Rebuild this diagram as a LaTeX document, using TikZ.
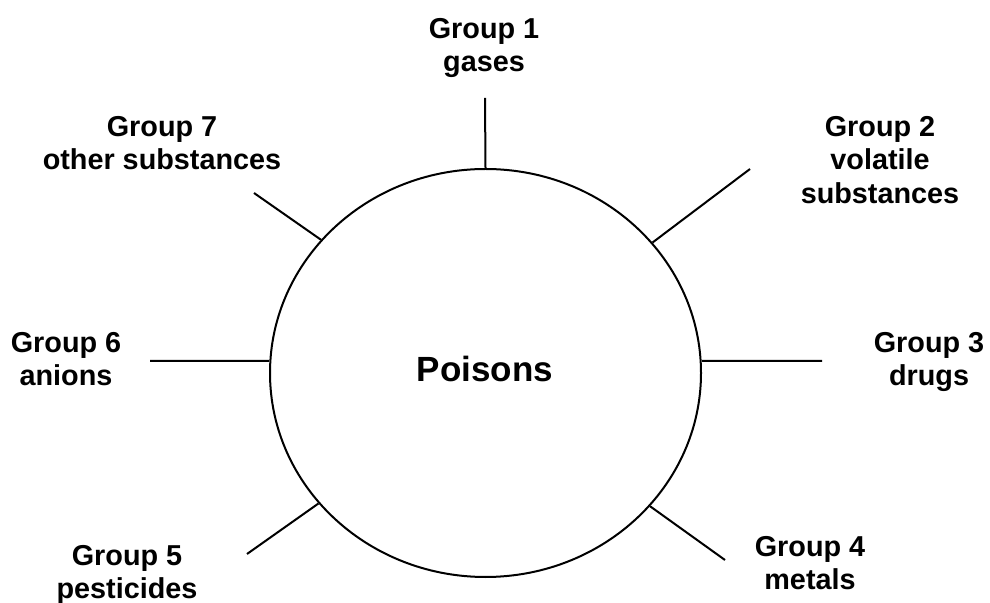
\documentclass[tikz,border=0pt]{standalone}
\usepackage{fontspec}
\setmainfont{Liberation Sans}
\usetikzlibrary{shapes.geometric,positioning}

\begin{document}
\begin{tikzpicture}[
        x=0.5pt, y=-0.5pt, line width=1pt,
        group/.style={align=center, inner sep=0pt,
                      font=\fontsize{14.4}{16.6}\selectfont\bfseries},
        hub/.style={draw, ellipse, minimum width=215.5pt, minimum height=204pt,
                    inner sep=0pt, font=\fontsize{17.5}{20}\selectfont\bfseries}
    ]
        \useasboundingbox (0,0) rectangle (990,603);

        \node[hub] (poisons) at (485.5,373) {};
        \node[font=\fontsize{17.5}{20}\selectfont\bfseries] (title) at (485,369) {Poisons};

        \node[group] (g1) at (484,48)  {Group 1\\gases};
        \node[group] (g2) at (880,160) {Group 2\\volatile\\substances};
        \node[group] (g3) at (929,362) {Group 3\\drugs};
        \node[group] (g4) at (810,563) {Group 4\\metals};
        \node[group] (g5) at (127,575) {Group 5\\pesticides};
        \node[group] (g6) at (66,359)  {Group 6\\anions};
        \node[group] (g7) at (162,143) {Group 7\\other substances};

        % free ends of the spokes
        \coordinate (t1) at (485,98);
        \coordinate (t2) at (750,169);
        \coordinate (t3) at (822,361);
        \coordinate (t4) at (725,560);
        \coordinate (t5) at (247,554);
        \coordinate (t6) at (150,361);
        \coordinate (t7) at (254,193);

        \path[draw]
            (poisons.north)     -- (t1)
            (poisons.38.2)      -- (t2)
            (t3 -| poisons.east) -- (t3)
            (poisons.321.8)     -- (t4)
            (poisons.218.4)     -- (t5)
            (t6 -| poisons.west) -- (t6)
            (poisons.141.9)     -- (t7);
    \end{tikzpicture}
\end{document}
